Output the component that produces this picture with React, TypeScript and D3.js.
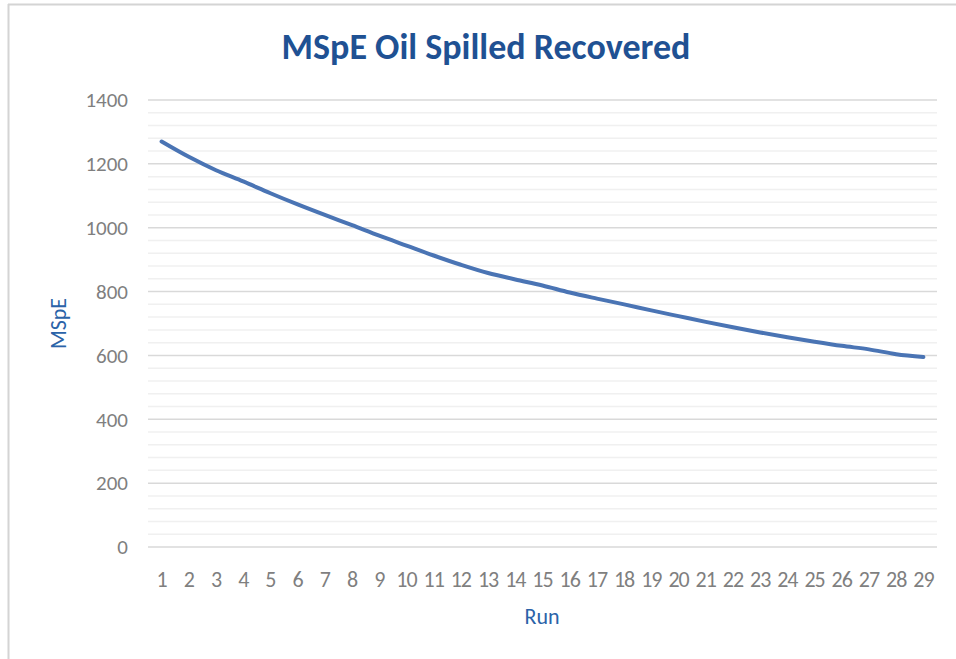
import React from 'react';
import * as d3 from 'd3';

// - Chart data
const runs = d3.range(1, 30).map(String);
const mspe = [1270, 1222, 1180, 1145, 1108, 1073, 1040, 1008, 975, 944, 913, 884, 858, 838, 819, 797, 778, 760, 741, 723, 705, 688, 672, 657, 643, 630, 619, 604, 595];
const yTicks = [0, 200, 400, 600, 800, 1000, 1200, 1400];
const minorTicks = d3.range(0, 1401, 40);

const W = 956;
const H = 659;
const margin = { top: 100, right: 19, bottom: 112, left: 148 };
const font = "Carlito, 'Open Sans', 'Noto Sans', sans-serif";

export default function App()
{
	const width = W - margin.left - margin.right;
	const height = H - margin.top - margin.bottom;

	const x = d3.scaleBand().domain(runs).range([0, width]);
	const y = d3.scaleLinear().domain([0, 1400]).range([height, 0]);

	const line = d3.line<number>()
		.x((d, i) => (x(runs[i]) as number) + x.bandwidth() / 2)
		.y(d => y(d))
		.curve(d3.curveCatmullRom.alpha(0.5));

	return (
		<svg width={W} height={H} style={{ position: 'absolute', left: 0, top: 0, background: '#fff' }}>
			<line x1={8.5} x2={8.5} y1={4} y2={H} stroke="#d4d4d4" strokeWidth={2} />
			<line x1={8} x2={W} y1={4.5} y2={4.5} stroke="#d4d4d4" strokeWidth={2} />

			<text x={486} y={59} textAnchor="middle" fontFamily={font} fontWeight="bold" fontSize={36} fill="#1f5193">
				MSpE Oil Spilled Recovered
			</text>

			<g transform={`translate(${margin.left},${margin.top})`}>
				{minorTicks.filter(t => t % 200 !== 0).map(t => (
					<line key={'m' + t} x1={0} x2={width} y1={y(t)} y2={y(t)} stroke="#f0f0f0" strokeWidth={1.5} />
				))}
				{yTicks.map(t => (
					<g key={t}>
						<line x1={0} x2={width} y1={y(t)} y2={y(t)} stroke="#d9d9d9" strokeWidth={1.5} />
						<text x={-20} y={y(t)} dy="0.35em" textAnchor="end" fontFamily={font} fontSize={21} fill="#7f7f7f">{t}</text>
					</g>
				))}
				{runs.map(r => (
					<text key={r} x={(x(r) as number) + x.bandwidth() / 2} y={height + 32} dy="0.35em" textAnchor="middle"
						fontFamily={font} fontSize={22} letterSpacing={-1} fill="#7f7f7f">{r}</text>
				))}
				<path d={line(mspe) || ''} fill="none" stroke="#4a74b4" strokeWidth={4} strokeLinecap="round" />
			</g>

			<text transform={`translate(58,${margin.top + y(700)}) rotate(-90)`} textAnchor="middle" dy="0.35em"
				fontFamily={font} fontSize={22} fill="#2b63a8">MSpE</text>
			<text x={542} y={616} textAnchor="middle" dy="0.35em" fontFamily={font} fontSize={22} fill="#2b63a8">Run</text>
		</svg>
	);
}
